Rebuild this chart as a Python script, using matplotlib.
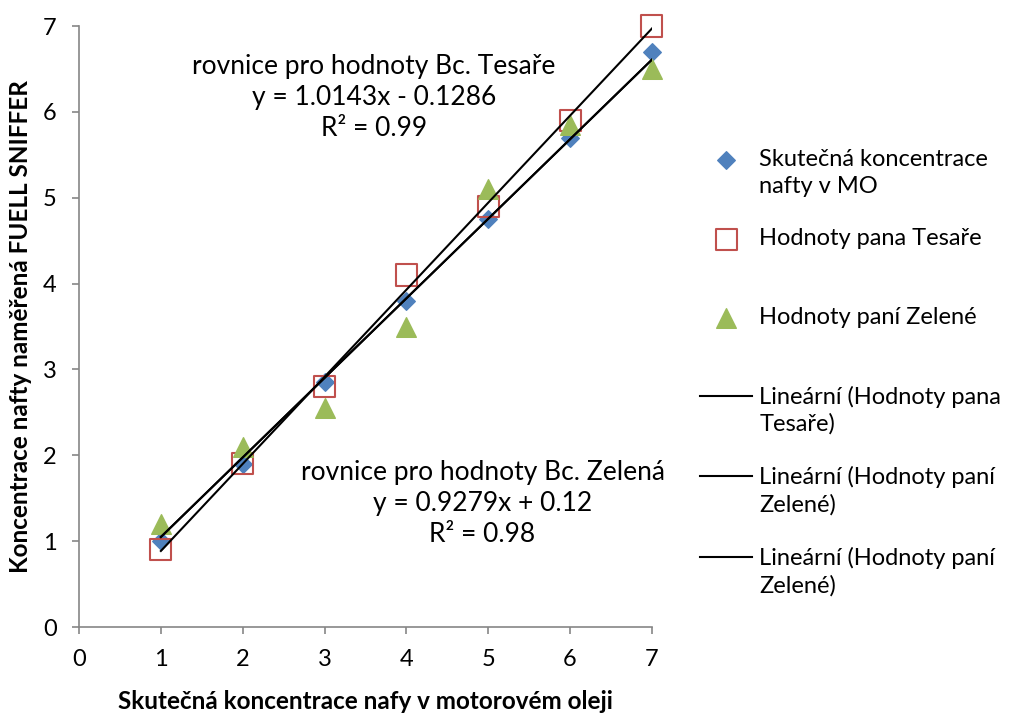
import numpy as np
import matplotlib.pyplot as plt
from matplotlib.lines import Line2D

plt.rcParams['font.family'] = ['Lato', 'DejaVu Sans']

# data
x = [1, 2, 3, 4, 5, 6, 7]
skutecna = [1.0, 1.9, 2.85, 3.8, 4.75, 5.7, 6.7]
tesar = [0.9, 1.9, 2.8, 4.1, 4.9, 5.9, 7.0]
zelena = [1.2, 2.1, 2.55, 3.5, 5.1, 5.85, 6.5]

labels = ["Skutečná koncentrace\nnafty v MO", "Hodnoty pana Tesaře\n ", "Hodnoty paní Zelené\n ",
          "Lineární (Hodnoty pana\nTesaře)", "Lineární (Hodnoty paní\nZelené)",
          "Lineární (Hodnoty paní\nZelené)"]

fig = plt.figure(figsize=(10.13, 7.13), dpi=100)
ax = fig.add_axes([0.078, 0.1206, 0.5656, 0.8429])

ax.scatter(x, skutecna, marker='D', s=80, color='#4F81BD', zorder=3, clip_on=False, label=labels[0])
ax.scatter(x, tesar, marker='s', s=230, facecolors='none', edgecolors='#C0504D',
           linewidths=1.5, zorder=3, clip_on=False, label=labels[1])
ax.scatter(x, zelena, marker='^', s=200, color='#9BBB59', zorder=3, clip_on=False, label=labels[2])

# linear trendlines
xs = np.array([1, 7])
kt = np.polyfit(x, tesar, 1)
kz = np.polyfit(x, zelena, 1)
ax.plot(xs, np.polyval(kt, xs), color='black', lw=1.5, zorder=4, label=labels[3])
ax.plot(xs, np.polyval(kz, xs), color='black', lw=1.5, zorder=4, label=labels[4])
ax.plot(xs, np.polyval(kz, xs), color='black', lw=1.5, zorder=4, label=labels[5])

ax.text(3.6, 6.17, "rovnice pro hodnoty Bc. Tesaře\ny = 1.0143x - 0.1286\nR² = 0.99",
        ha='center', va='center', fontsize=19, linespacing=1.3)
ax.text(4.93, 1.44, "rovnice pro hodnoty Bc. Zelená\ny = 0.9279x + 0.12\nR² = 0.98",
        ha='center', va='center', fontsize=19, linespacing=1.3)

ax.set_xlim(0, 7)
ax.set_ylim(0, 7)
ax.set_xticks(range(8))
ax.set_yticks(range(8))
ax.tick_params(labelsize=17, color='#868686', length=5, width=1.2, pad=11)
for s in ['top', 'right']:
    ax.spines[s].set_visible(False)
for s in ['left', 'bottom']:
    ax.spines[s].set_color('#868686')
    ax.spines[s].set_linewidth(1.2)

ax.set_xlabel("Skutečná koncentrace nafy v motorovém oleji", fontsize=17.5,
              fontweight='bold', labelpad=14)
ax.set_ylabel("Koncentrace nafty naměřená FUELL SNIFFER", fontsize=17.5,
              fontweight='bold', labelpad=8)

leg = fig.legend(loc='upper left', bbox_to_anchor=(0.682, 0.804), frameon=False,
                 fontsize=17, handlelength=2.2, handletextpad=0.3, labelspacing=1.33,
                 borderaxespad=0, scatterpoints=1)
for t in leg.get_texts():
    t.set_linespacing(1.32)
# align legend keys with the first text line, as Excel does
shift = 10.8
for h in leg.legend_handles:
    if isinstance(h, Line2D):
        h.set_ydata(np.asarray(h.get_ydata()) + shift)
    else:
        h.set_offsets(np.asarray(h.get_offsets()) + [0, shift])

plt.savefig("out.png", dpi=100)
